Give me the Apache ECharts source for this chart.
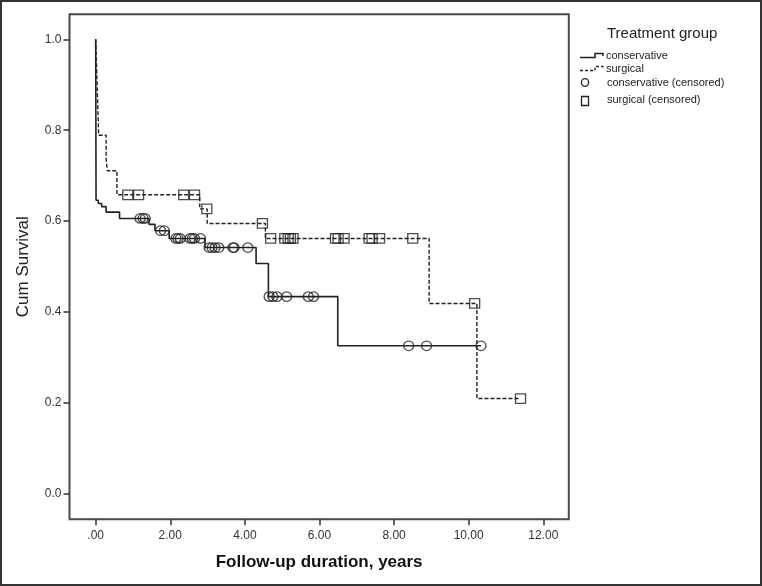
<!DOCTYPE html>
<html>
<head>
<meta charset="utf-8">
<script src="https://cdn.jsdelivr.net/npm/echarts@6/dist/echarts.min.js"></script>
<style>
html,body{margin:0;padding:0;background:#fff;}
#chart{width:762px;height:586px;}
</style>
</head>
<body>
<div id="chart"></div>
<script>
// ---- data ----
var xTickValues = [0, 2, 4, 6, 8, 10, 12];
var xTickLabels = ['.00', '2.00', '4.00', '6.00', '8.00', '10.00', '12.00'];
var yTickValues = [0, 0.2, 0.4, 0.6, 0.8, 1.0];
var yTickLabels = ['0.0', '0.2', '0.4', '0.6', '0.8', '1.0'];

var seriesNames = ['conservative', 'surgical', 'conservative (censored)', 'surgical (censored)'];

// conservative Kaplan-Meier steps (time, survival)
var consTimes = [0, 0.01, 0.07, 0.16, 0.28, 0.64, 1.43, 1.59, 1.97, 2.93, 4.30, 4.63, 6.49, 10.33];
var consSurv  = [1.0, 0.646, 0.639, 0.632, 0.620, 0.606, 0.593, 0.579, 0.562, 0.542, 0.507, 0.434, 0.326, 0.326];
// conservative censored
var consCensTimes = [1.19, 1.27, 1.33, 1.74, 1.84, 2.15, 2.21, 2.27, 2.53, 2.59, 2.65, 2.81,
                     3.04, 3.12, 3.20, 3.30, 3.68, 3.71, 4.08, 4.65, 4.75, 4.86, 5.12, 5.70, 5.84,
                     8.39, 8.87, 10.33];
var consCensSurv  = [0.606, 0.606, 0.606, 0.579, 0.579, 0.562, 0.562, 0.562, 0.562, 0.562, 0.562, 0.562,
                     0.542, 0.542, 0.542, 0.542, 0.542, 0.542, 0.542, 0.434, 0.434, 0.434, 0.434, 0.434, 0.434,
                     0.326, 0.326, 0.326];

// surgical Kaplan-Meier steps
var surgTimes = [0, 0.01, 0.02, 0.03, 0.04, 0.05, 0.06, 0.07, 0.08, 0.28, 0.28, 0.31, 0.57, 0.57, 2.79, 2.99, 4.55, 8.94, 10.22, 11.39];
var surgSurv  = [1.0, 0.974, 0.947, 0.921, 0.895, 0.868, 0.842, 0.816, 0.789, 0.763, 0.737, 0.711, 0.684, 0.658, 0.627, 0.595, 0.562, 0.419, 0.210, 0.210];
// surgical censored
var surgCensTimes = [0.86, 1.15, 2.36, 2.65, 2.98, 4.47, 4.69, 5.07, 5.16, 5.22, 5.29, 6.43, 6.50, 6.66,
                     7.33, 7.41, 7.61, 8.50, 10.16, 11.39];
var surgCensSurv  = [0.658, 0.658, 0.658, 0.658, 0.627, 0.595, 0.562, 0.562, 0.562, 0.562, 0.562, 0.562, 0.562, 0.562,
                     0.562, 0.562, 0.562, 0.562, 0.419, 0.210];

function zip(a, b) { return a.map(function (v, i) { return [v, b[i]]; }); }
function near(list, v) {
  for (var i = 0; i < list.length; i++) { if (Math.abs(list[i] - v) < 1e-6) return i; }
  return -1;
}

var FONT = '"Liberation Sans", Arial, sans-serif';
var INK = '#222';

var chart = echarts.init(document.getElementById('chart'), null, {renderer: 'canvas'});

chart.setOption({
  animation: false,
  backgroundColor: '#fff',
  grid: {left: 69.5, right: 193.2, top: 14.2, bottom: 66.8, containLabel: false,
         show: true, borderColor: '#4a4a4a', borderWidth: 2, backgroundColor: 'transparent'},
  xAxis: {
    type: 'value', min: -0.702, max: 12.684,
    axisLine: {show: false, onZero: false},
    axisTick: {show: true, length: 6, customValues: xTickValues, lineStyle: {color: '#333', width: 1.5}},
    splitLine: {show: false},
    axisLabel: {
      margin: 10, color: '#333', fontSize: 12, fontFamily: FONT, customValues: xTickValues,
      formatter: function (v) { var i = near(xTickValues, v); return i >= 0 ? xTickLabels[i] : ''; }
    },
    name: 'Follow-up duration, years', nameLocation: 'middle', nameGap: 35,
    nameTextStyle: {fontSize: 17, fontWeight: 'bold', color: '#111', fontFamily: FONT}
  },
  yAxis: {
    type: 'value', min: -0.0554, max: 1.0552,
    axisLine: {show: false, onZero: false},
    axisTick: {show: true, length: 6, customValues: yTickValues, lineStyle: {color: '#333', width: 1.5}},
    splitLine: {show: false},
    axisLabel: {
      margin: 8, color: '#333', fontSize: 12, fontFamily: FONT, customValues: yTickValues,
      formatter: function (v) { var i = near(yTickValues, v); return i >= 0 ? yTickLabels[i] : ''; }
    },
    name: 'Cum Survival', nameLocation: 'middle', nameGap: 38,
    nameTextStyle: {fontSize: 17, color: INK, fontFamily: FONT}
  },
  graphic: [
    {type: 'rect', shape: {x: 1, y: 1, width: 760, height: 584}, style: {fill: 'none', stroke: '#333', lineWidth: 2}, silent: true, z: 100},
    // legend
    {type: 'text', left: 607, top: 26, style: {text: 'Treatment group', font: '15px ' + FONT, fill: INK}, z: 100},
    {type: 'polyline', shape: {points: [[580, 57.5], [595, 57.5], [595, 53.5], [603, 53.5], [603, 56]]},
      style: {stroke: INK, lineWidth: 1.5, fill: 'none'}, z: 100},
    {type: 'text', left: 606, top: 50.5, style: {text: seriesNames[0], font: '11px ' + FONT, fill: INK}, z: 100},
    {type: 'polyline', shape: {points: [[580, 70.5], [595, 70.5], [595, 66.5], [603, 66.5], [603, 69]]},
      style: {stroke: INK, lineWidth: 1.3, fill: 'none', lineDash: [3, 2]}, z: 100},
    {type: 'text', left: 606, top: 63.5, style: {text: seriesNames[1], font: '11px ' + FONT, fill: INK}, z: 100},
    {type: 'ellipse', shape: {cx: 585, cy: 82.5, rx: 3.6, ry: 3.8}, style: {stroke: INK, lineWidth: 1.3, fill: 'none'}, z: 100},
    {type: 'text', left: 607, top: 77, style: {text: seriesNames[2], font: '11px ' + FONT, fill: INK}, z: 100},
    {type: 'rect', shape: {x: 581.5, y: 96.5, width: 7, height: 9}, style: {stroke: INK, lineWidth: 1.3, fill: 'none'}, z: 100},
    {type: 'text', left: 607, top: 94.5, style: {text: seriesNames[3], font: '11px ' + FONT, fill: INK}, z: 100}
  ],
  series: [
    {
      name: seriesNames[0], type: 'line', step: 'end', clip: false, showSymbol: false, symbol: 'none',
      data: zip(consTimes, consSurv),
      lineStyle: {color: INK, width: 1.6}, z: 3
    },
    {
      name: seriesNames[1], type: 'line', step: 'end', clip: false, showSymbol: false, symbol: 'none',
      data: zip(surgTimes, surgSurv),
      lineStyle: {color: INK, width: 1.4, type: [4, 2]}, z: 3
    },
    {
      name: seriesNames[2], type: 'scatter', clip: false, symbol: 'circle', symbolSize: [10, 9.5],
      data: zip(consCensTimes, consCensSurv),
      itemStyle: {color: 'rgba(0,0,0,0)', borderColor: INK, borderWidth: 1.3}, z: 4
    },
    {
      name: seriesNames[3], type: 'scatter', clip: false, symbol: 'rect', symbolSize: [10, 9.5],
      data: zip(surgCensTimes, surgCensSurv),
      itemStyle: {color: 'rgba(0,0,0,0)', borderColor: INK, borderWidth: 1.3}, z: 4
    }
  ]
});
</script>
</body>
</html>
